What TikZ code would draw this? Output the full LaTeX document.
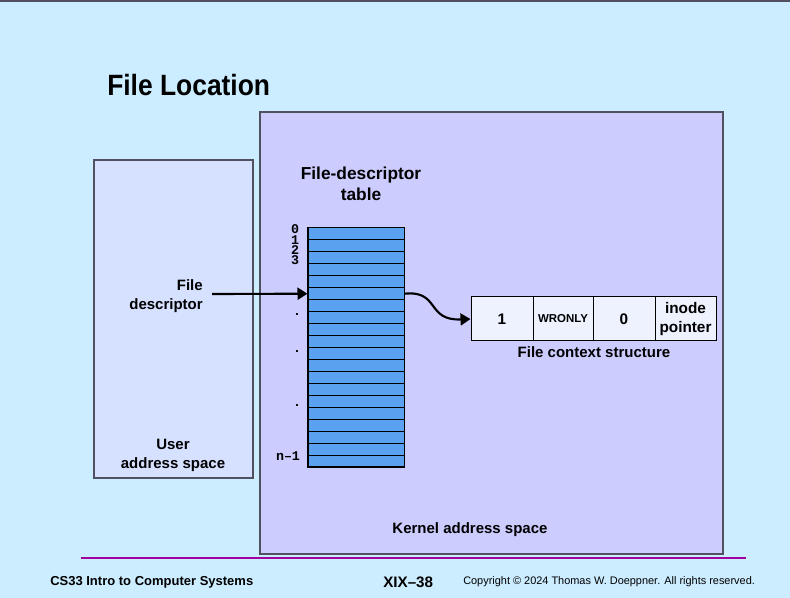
\documentclass[tikz,border=0pt]{standalone}
\usepackage{fontspec}
\setmainfont{Liberation Sans}
\newfontfamily\titlefont{Liberation Sans}[FakeStretch=0.9]
\newfontfamily\idxfont{Liberation Mono}
\usetikzlibrary{arrows.meta}
\definecolor{bg}{RGB}{204,236,255}
\definecolor{kernelfill}{RGB}{204,204,255}
\definecolor{userfill}{RGB}{214,224,255}
\definecolor{boxline}{RGB}{80,80,96}
\definecolor{tblue}{RGB}{90,162,240}
\definecolor{cellfill}{RGB}{238,242,255}
\definecolor{rule}{RGB}{160,0,160}
\begin{document}
\begin{tikzpicture}[x=0.75pt,y=-0.75pt,
  lbl/.style={font=\fontsize{11.25}{14.5}\selectfont\bfseries, inner sep=0, align=center},
  idx/.style={font=\fontsize{10}{10}\selectfont\idxfont\bfseries, inner sep=0},
  rowbox/.style={draw=black, fill=tblue, line width=0.75pt, minimum width=72pt, minimum height=8.9625pt, inner sep=0},
  cell/.style={draw=black, fill=cellfill, line width=0.75pt, minimum height=33pt, inner sep=0, align=center, font=\fontsize{11.5}{14}\selectfont\bfseries},
  conn/.style={line width=1.6pt, -{Triangle[length=7.5pt,width=9pt]}}]
\fill[bg] (0,0) rectangle (790,598);
\useasboundingbox (0,0) rectangle (790,598);
\draw[boxline, line width=1.2pt] (0,1) -- (790,1);
% title
\node[anchor=base west, inner sep=0, font=\fontsize{22}{26}\selectfont\titlefont\bfseries] (title) at (107,96) {File Location};
% boxes
\draw[boxline, line width=1.2pt, fill=kernelfill] (260,112) rectangle (723,554);
\node[draw=boxline, line width=0.8pt, fill=userfill, minimum width=119.25pt, minimum height=238.5pt, inner sep=0] (user) at (173.5,319) {};
% labels
\node[lbl, anchor=north, font=\fontsize{13}{15.5}\selectfont\bfseries] (fdtlbl) at (361,167) {File-descriptor\\table};
\node[lbl, anchor=north east, align=right] (fdlbl) at (203,279) {File\\descriptor};
\node[lbl, anchor=north] (userlbl) at (173,439) {User\\address space};
\node[lbl, anchor=base] (kernlbl) at (470,534) {Kernel address space};
% table rows
\foreach \i in {0,...,19}
  \node[rowbox] (r\i) at (356,{228+11.95*(\i+0.5)}) {};
\draw[line width=1.2pt] (r0.north west) rectangle (r19.south east);
% indices
\node[idx] (i0) at (295,229) {0};
\node[idx] (i1) at (295,240) {1};
\node[idx] (i2) at (295,250) {2};
\node[idx] (i3) at (295,260) {3};
\node[idx, anchor=base] (d1) at (297,316) {.};
\node[idx, anchor=base] (d2) at (297,353) {.};
\node[idx, anchor=base] (d3) at (297,407) {.};
\node[idx] (in) at (288,456) {n–1};
% file context structure
\node[cell, minimum width=46.5pt] (c1) at (502,319) {1};
\node[cell, minimum width=45pt, font=\fontsize{8.6}{10}\selectfont\bfseries] (c2) at (563,319) {WRONLY};
\node[cell, minimum width=46.5pt] (c3) at (624,319) {0};
\node[cell, minimum width=45.75pt] (c4) at (685.5,319) {inode\\pointer};
\node[lbl, anchor=base] (fcs) at (594,358) {File context structure};
% connectors
\coordinate (fdstart) at (212,294);
\draw[conn] (fdstart) -- (r5.west);
\draw[conn] (r5.east) .. controls (440,290) and (426,321) .. (c1.west);
% footer
\draw[rule, line width=2pt] (81,558) -- (746,558);
\node[anchor=base west, inner sep=0, font=\fontsize{9.75}{12}\selectfont\bfseries] (course) at (50,586) {CS33 Intro to Computer Systems};
\node[anchor=base west, inner sep=0, font=\fontsize{11.4}{13}\selectfont\bfseries] (slide) at (383,588) {XIX--38};
\node[anchor=base west, inner sep=0, font=\fontsize{8.2}{10}\selectfont] (copy) at (463,585) {Copyright © 2024 Thomas W. Doeppner. All rights reserved.};
\end{tikzpicture}
\end{document}
